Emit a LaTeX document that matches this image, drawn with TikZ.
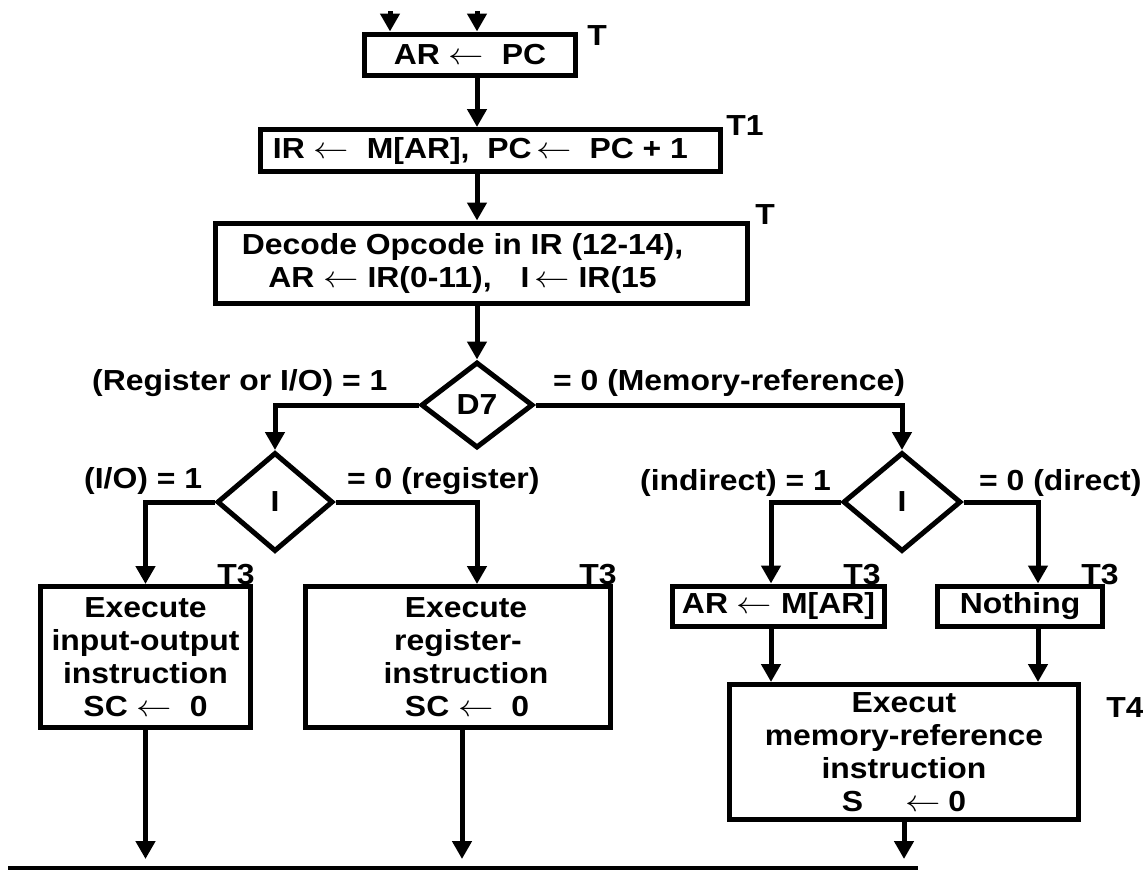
\RequirePackage{fix-cm}
\documentclass[tikz,border=0pt]{standalone}
\usepackage{fontspec}
\setmainfont{Liberation Sans}[FakeStretch=1.1]
\usetikzlibrary{arrows.meta,shapes.geometric}
\newcommand{\larr}{\scalebox{1.22}[1.05]{$\leftarrow$}}
\begin{document}
\begin{tikzpicture}[x=1pt,y=-1pt,
  every node/.style={font=\fontsize{29}{33}\selectfont\bfseries},
  stepbox/.style={draw,line width=5pt,inner sep=0pt,align=center},
  dia/.style={draw,diamond,line width=5pt,inner sep=0pt},
  tlab/.style={anchor=base,inner sep=0pt},
  elab/.style={anchor=base west,inner sep=0pt},
  arr/.style={line width=5pt,-{Triangle[length=18pt,width=19pt]}},
  plain/.style={line width=5pt}
]
\useasboundingbox (0,0) rectangle (1143,871);

% columns / free ends
\coordinate (in1) at (390,11);
\coordinate (in2) at (477,11);
\coordinate (colA) at (477,0);
\coordinate (colR) at (462,0);
\coordinate (colM1) at (771,0);
\coordinate (colM2) at (1038,0);
\coordinate (endrow) at (0,859);
\coordinate (bl) at (8,868);
\coordinate (br) at (918,868);

% boxes
\node[stepbox,minimum width=211pt,minimum height=41pt] (b1) at (470,54.5) {AR \larr\ \ PC};
\node[stepbox,minimum width=460pt,minimum height=42pt] (b2) at (490.5,150.5)
  {IR \larr\ \ M[AR], \ PC\,\larr\ \ PC + 1\hspace*{20pt}};
\node[stepbox,minimum width=532pt,minimum height=80pt] (b3) at (481.5,263)
  {Decode Opcode in IR (12-14),\hspace*{38pt}\\AR \larr\ IR(0-11),\quad I\,\larr\ IR(15\hspace*{38pt}};

\node[dia,minimum width=112pt,minimum height=86pt] (d7) at (477,405) {\raisebox{-7pt}{D7}};
\node[dia,minimum width=116pt,minimum height=99pt] (iL) at (275,502) {\raisebox{-8pt}{I}};
\node[dia,minimum width=118pt,minimum height=99pt] (iR) at (902,502) {\raisebox{-8pt}{I}};

\node[stepbox,minimum width=210pt,minimum height=141pt] (io) at (145.5,657)
  {Execute\\input-output\\instruction\\SC \larr\ \ 0};
\node[stepbox,minimum width=305pt,minimum height=141pt] (reg) at (458,657)
  {\hspace*{16pt}Execute\\register-\hspace*{144pt}\\\hspace*{16pt}instruction\\\hspace*{18pt}SC \larr\ \ 0};
\node[stepbox,minimum width=212pt,minimum height=40pt] (ar) at (778.5,606)
  {\raisebox{-6pt}{AR \larr\ M[AR]}};
\node[stepbox,minimum width=165pt,minimum height=40pt] (nothing) at (1020,606)
  {\raisebox{-6pt}{Nothing}};
\node[stepbox,minimum width=349pt,minimum height=135pt] (mem) at (904,752)
  {Execut\\memory-reference\\instruction\\S\hspace*{42pt}\larr\hspace*{8pt}0};

% timing labels
\node[tlab] (t0) at (597,45) {T};
\node[tlab] (t1) at (745,135) {T1};
\node[tlab] (t2) at (765,224) {T};
\node[tlab] (t3a) at (236,584) {T3};
\node[tlab] (t3b) at (598,584) {T3};
\node[tlab] (t3c) at (862,584) {T3};
\node[tlab] (t3d) at (1100,584) {T3};
\node[tlab] (t4) at (1125,717) {T4};

% branch labels
\node[elab] (l1) at (92,390) {(Register or I/O) = 1};
\node[elab] (l2) at (553,390) {= 0 (Memory-reference)};
\node[elab] (l3) at (84,488) {(I/O) = 1};
\node[elab] (l4) at (347,488) {= 0 (register)};
\node[elab] (l5) at (640,490) {(indirect) = 1};
\node[elab] (l6) at (979,490) {= 0 (direct)};

% connectors
\draw[arr] (in1) -- (in1 |- b1.north);
\draw[arr] (in2) -- (in2 |- b1.north);
\draw[arr] (b1.south -| colA) -- (b2.north -| colA);
\draw[arr] (b2.south -| colA) -- (b3.north -| colA);
\draw[arr] (b3.south -| colA) -- (d7.north);
\draw[arr] (d7.west) -| (iL.north);
\draw[arr] (d7.east) -| (iR.north);
\draw[arr] (iL.west) -| (io.north);
\draw[arr] (iL.east) -| (reg.north -| colA);
\draw[arr] (iR.west) -| (ar.north -| colM1);
\draw[arr] (iR.east) -| (nothing.north -| colM2);
\draw[arr] (ar.south -| colM1) -- (mem.north -| colM1);
\draw[arr] (nothing.south -| colM2) -- (mem.north -| colM2);
\draw[arr] (io.south) -- (io.south |- endrow);
\draw[arr] (reg.south -| colR) -- (colR |- endrow);
\draw[arr] (mem.south) -- (mem.south |- endrow);
\draw[line width=4pt] (bl) -- (br);
\end{tikzpicture}
\end{document}
